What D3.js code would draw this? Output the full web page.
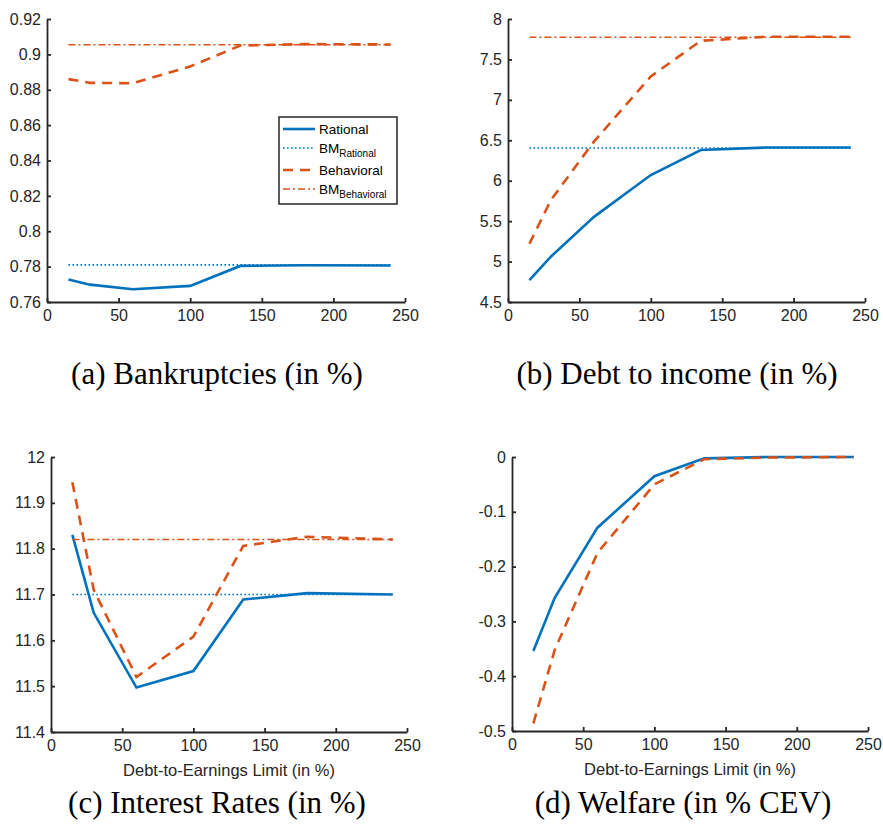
<!DOCTYPE html>
<html>
<head>
<meta charset="utf-8">
<script src="https://cdn.jsdelivr.net/npm/d3@7"></script>
<style>
  body { margin: 0; background: #fff; }
  svg { display: block; }
</style>
</head>
<body>
<div id="chart"></div>
<script>
// debt-to-earnings limit (in %)
var xVals = [15, 30, 60, 100, 135, 180, 240];
var xTicks = [0, 50, 100, 150, 200, 250];

// (a) bankruptcies
var bankRational = [0.7727, 0.7698, 0.7672, 0.7691, 0.7804, 0.7808, 0.7806];
var bankBehavioral = [0.886, 0.8839, 0.8837, 0.8932, 0.905, 0.9058, 0.9056];
var bankBM = [0.781, 0.9055];
var bankTicks = [0.76, 0.78, 0.8, 0.82, 0.84, 0.86, 0.88, 0.9, 0.92];

// (b) debt to income
var debtRational = [4.77, 5.06, 5.55, 6.07, 6.38, 6.41, 6.41];
var debtBehavioral = [5.22, 5.76, 6.48, 7.29, 7.73, 7.78, 7.78];
var debtBM = [6.405, 7.775];
var debtTicks = [4.5, 5, 5.5, 6, 6.5, 7, 7.5, 8];

// (c) interest rates
var rateRational = [11.83, 11.66, 11.497, 11.533, 11.689, 11.703, 11.7];
var rateBehavioral = [11.945, 11.71, 11.52, 11.608, 11.806, 11.826, 11.82];
var rateBM = [11.7, 11.82];
var rateTicks = [11.4, 11.5, 11.6, 11.7, 11.8, 11.9, 12];

// (d) welfare
var welfRational = [-0.354, -0.257, -0.129, -0.035, -0.0025, 0, 0];
var welfBehavioral = [-0.486, -0.352, -0.175, -0.05, -0.004, -0.001, 0];
var welfTicks = [-0.5, -0.4, -0.3, -0.2, -0.1, 0];

var legendLabels = [["Rational", ""], ["BM", "Rational"], ["Behavioral", ""], ["BM", "Behavioral"]];

var blue = "#0072BD", orange = "#D95319", axisCol = "#262626";

var styles = {
  rational: { color: blue, width: 2.6, dash: null },
  bmRational: { color: blue, width: 1.6, dash: "1.6,2.4" },
  behavioral: { color: orange, width: 2.6, dash: "10,7" },
  bmBehavioral: { color: orange, width: 1.5, dash: "7,3,2,3" }
};

var panels = [
  { left: 47, right: 405, top: 19, bottom: 302, yTicks: bankTicks,
    rational: bankRational, behavioral: bankBehavioral, bm: bankBM,
    caption: "(a) Bankruptcies (in %)", capX: 217, capY: 384, legend: true },
  { left: 508, right: 865, top: 19, bottom: 302, yTicks: debtTicks,
    rational: debtRational, behavioral: debtBehavioral, bm: debtBM,
    caption: "(b) Debt to income (in %)", capX: 677, capY: 384 },
  { left: 51, right: 407, top: 457, bottom: 732, yTicks: rateTicks,
    rational: rateRational, behavioral: rateBehavioral, bm: rateBM,
    caption: "(c) Interest Rates (in %)", capX: 217, capY: 813, xLabel: true },
  { left: 512, right: 868, top: 457, bottom: 731, yTicks: welfTicks,
    rational: welfRational, behavioral: welfBehavioral, bm: null,
    caption: "(d) Welfare (in % CEV)", capX: 683, capY: 813, xLabel: true }
];

var svg = d3.select("#chart").append("svg")
  .attr("width", 883)
  .attr("height", 825);

svg.append("rect").attr("width", 883).attr("height", 825).attr("fill", "#fff");

function applyStyle(sel, st) {
  sel.attr("fill", "none")
    .attr("stroke", st.color)
    .attr("stroke-width", st.width)
    .attr("stroke-dasharray", st.dash);
}

panels.forEach(function(p) {
  var x = d3.scaleLinear().domain([0, 250]).range([p.left, p.right]);
  var y = d3.scaleLinear().domain(d3.extent(p.yTicks)).range([p.bottom, p.top]);

  var line = d3.line()
    .x(function(d) { return x(d[0]); })
    .y(function(d) { return y(d[1]); });

  var g = svg.append("g");

  // series
  g.append("path").datum(d3.zip(xVals, p.rational))
    .attr("d", line).call(applyStyle, styles.rational);
  if (p.bm) {
    g.append("path").datum([[xVals[0], p.bm[0]], [xVals[xVals.length - 1], p.bm[0]]])
      .attr("d", line).call(applyStyle, styles.bmRational);
  }
  g.append("path").datum(d3.zip(xVals, p.behavioral))
    .attr("d", line).call(applyStyle, styles.behavioral);
  if (p.bm) {
    g.append("path").datum([[xVals[0], p.bm[1]], [xVals[xVals.length - 1], p.bm[1]]])
      .attr("d", line).call(applyStyle, styles.bmBehavioral);
  }

  // axes, matlab style: inward ticks, no box
  var xAxis = g.append("g")
    .attr("transform", "translate(0," + p.bottom + ")")
    .call(d3.axisBottom(x).tickValues(xTicks).tickSizeInner(-4).tickSizeOuter(0).tickPadding(8)
      .tickFormat(function(d) { return String(d); }));
  var yAxis = g.append("g")
    .attr("transform", "translate(" + p.left + ",0)")
    .call(d3.axisLeft(y).tickValues(p.yTicks).tickSizeInner(-4).tickSizeOuter(0).tickPadding(6)
      .tickFormat(function(d) { return String(d); }));

  [xAxis, yAxis].forEach(function(a) {
    a.attr("font-family", "'Liberation Sans', Arial, sans-serif").attr("font-size", 16);
    a.select(".domain").attr("stroke", axisCol).attr("stroke-width", 1.8);
    a.selectAll(".tick line").attr("stroke", axisCol).attr("stroke-width", 1.8);
    a.selectAll(".tick text").attr("fill", axisCol);
  });

  if (p.xLabel) {
    g.append("text")
      .attr("x", (p.left + p.right) / 2)
      .attr("y", p.bottom + 44)
      .attr("text-anchor", "middle")
      .attr("font-family", "'Liberation Sans', Arial, sans-serif")
      .attr("font-size", 16.5)
      .attr("fill", axisCol)
      .text("Debt-to-Earnings Limit (in %)");
  }

  svg.append("text")
    .attr("x", p.capX)
    .attr("y", p.capY)
    .attr("text-anchor", "middle")
    .attr("font-family", "'Liberation Serif', 'Times New Roman', serif")
    .attr("font-size", 31)
    .attr("fill", "#000")
    .text(p.caption);

  if (p.legend) {
    var lg = g.append("g").attr("transform", "translate(279,117)");
    lg.append("rect").attr("width", 118).attr("height", 87)
      .attr("fill", "#fff").attr("stroke", axisCol).attr("stroke-width", 1.5);
    var keys = ["rational", "bmRational", "behavioral", "bmBehavioral"];
    var rowY = [12, 31, 53, 72];
    keys.forEach(function(k, i) {
      lg.append("line").attr("x1", 4).attr("x2", 36).attr("y1", rowY[i]).attr("y2", rowY[i])
        .call(applyStyle, styles[k]);
      var t = lg.append("text").attr("x", 40).attr("y", rowY[i] + 5)
        .attr("font-family", "'Liberation Sans', Arial, sans-serif")
        .attr("font-size", 13.5).attr("fill", "#000");
      t.append("tspan").text(legendLabels[i][0]);
      if (legendLabels[i][1]) {
        t.append("tspan").attr("dy", 4).attr("font-size", 10).text(legendLabels[i][1]);
      }
    });
  }
});
</script>
</body>
</html>
